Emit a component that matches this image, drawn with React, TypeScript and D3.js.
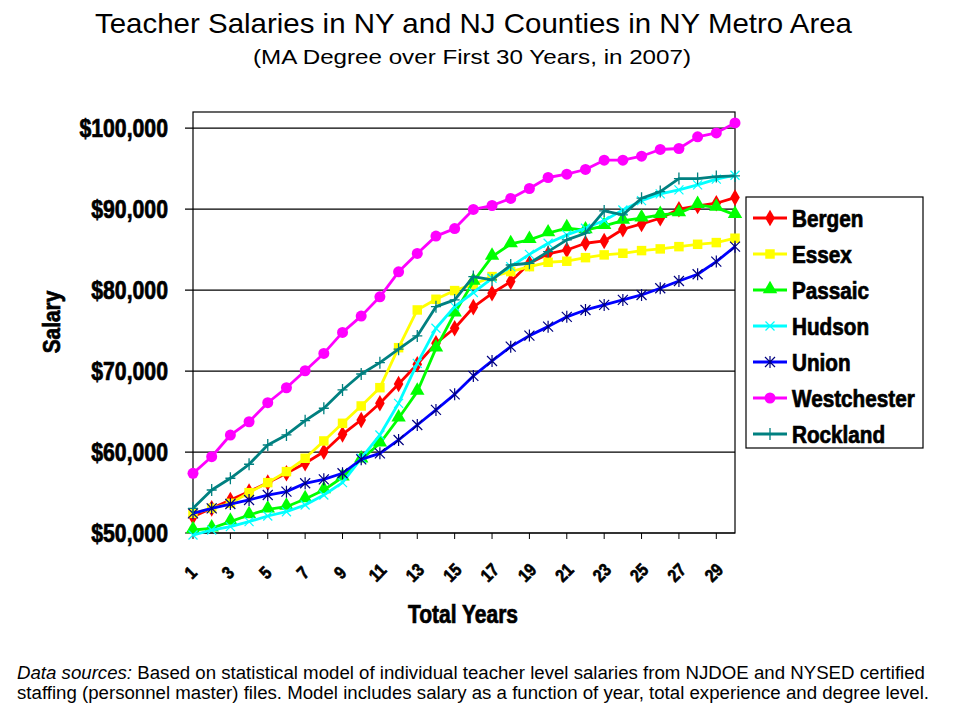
import React, { useEffect } from 'react';
import * as d3 from 'd3';

// years of experience 1..30
const years = d3.range(1, 31);
const yTicks = [50000, 60000, 70000, 80000, 90000, 100000];

const bergen = [52020, 53050, 54080, 55110, 56220, 57380, 58610, 60040, 62190, 63960, 66020, 68410, 70840, 73430, 75290, 77890, 79610, 81050, 83320, 84470, 84960, 85790, 86070, 87520, 88170, 88880, 89990, 90400, 90730, 91430];
const essex = [52430, 53050, 53670, 54980, 56220, 57580, 59230, 61370, 63550, 65690, 67950, 72890, 77550, 78870, 79940, 80700, 81670, 82290, 82900, 83440, 83570, 84010, 84350, 84550, 84880, 85090, 85370, 85660, 85870, 86410];
const passaic = [50370, 50580, 51400, 52220, 52930, 53250, 54200, 55310, 56880, 59100, 61080, 64170, 67460, 72810, 77140, 81050, 84140, 85700, 86200, 87030, 87650, 87400, 87930, 88590, 88880, 89290, 89500, 90520, 90190, 89290];
const hudson = [49750, 50370, 50780, 51400, 52100, 52630, 53460, 54690, 56220, 59230, 62110, 66020, 70960, 75290, 77960, 79700, 81460, 82900, 84420, 85790, 86820, 87640, 88590, 89900, 91050, 91880, 92380, 92990, 93700, 94190];
const union = [52430, 53050, 53580, 54080, 54690, 55110, 56140, 56630, 57380, 59100, 59840, 61490, 63340, 65200, 67130, 69400, 71250, 73020, 74380, 75490, 76700, 77550, 78170, 78790, 79400, 80230, 81130, 81960, 83520, 85370];
const westchester = [57370, 59420, 62100, 63740, 66090, 67940, 70040, 72180, 74780, 76790, 79170, 82260, 84530, 86670, 87600, 89960, 90450, 91320, 92550, 93910, 94320, 94900, 96050, 96050, 96540, 97370, 97490, 98930, 99420, 100650];
const rockland = [53050, 55310, 56760, 58490, 60870, 62110, 63880, 65410, 67670, 69640, 71040, 72700, 74340, 77960, 78790, 81670, 81260, 83100, 83320, 84760, 86200, 87030, 89780, 89290, 91350, 92170, 93780, 93780, 94020, 94110];

type Marker = 'diamond' | 'square' | 'triangle' | 'x' | 'star' | 'circle' | 'plus';
const series: { name: string; values: number[]; color: string; markColor: string; marker: Marker }[] = [
  { name: 'Bergen', values: bergen, color: '#ff0000', markColor: '#ff0000', marker: 'diamond' },
  { name: 'Essex', values: essex, color: '#ffff00', markColor: '#ffff00', marker: 'square' },
  { name: 'Passaic', values: passaic, color: '#00ff00', markColor: '#00ff00', marker: 'triangle' },
  { name: 'Hudson', values: hudson, color: '#00ffff', markColor: '#00ffff', marker: 'x' },
  { name: 'Union', values: union, color: '#0000ff', markColor: '#000080', marker: 'star' },
  { name: 'Westchester', values: westchester, color: '#ff00ff', markColor: '#ff00ff', marker: 'circle' },
  { name: 'Rockland', values: rockland, color: '#008080', markColor: '#008080', marker: 'plus' },
];

const sans = "'Liberation Sans', Arial, sans-serif";

const W = 960, H = 720;
const plot = { left: 193, right: 735, top: 112, bottom: 533 };

// no narrow font installed, so squeeze Liberation Sans horizontally
const NText: React.FC<{
  x: number; y: number; sx: number; size: number; bold?: boolean; anchor?: string; rotate?: number; children: React.ReactNode;
}> = ({ x, y, sx, size, bold, anchor = 'start', rotate = 0, children }) => (
  <text transform={`translate(${x},${y}) rotate(${rotate}) scale(${sx},1)`} textAnchor={anchor}
    fontFamily={sans} fontSize={size} fontWeight={bold ? 'bold' : 'normal'}
    stroke={bold ? '#000' : 'none'} strokeWidth={bold ? 0.7 : 0}>
    {children}
  </text>
);

const MarkerShape: React.FC<{ type: Marker; x: number; y: number; color: string }> = ({ type, x, y, color }) => {
  const t = `translate(${x},${y})`;
  switch (type) {
    case 'diamond':
      return <path transform={t} d={d3.symbol(d3.symbolDiamond, 80)()!} fill={color} />;
    case 'square':
      return <path transform={t} d={d3.symbol(d3.symbolSquare, 90)()!} fill={color} />;
    case 'triangle':
      return <path transform={`translate(${x},${y - 1})`} d={d3.symbol(d3.symbolTriangle, 90)()!} fill={color} />;
    case 'circle':
      return <circle cx={x} cy={y} r={5.5} fill={color} />;
    case 'x':
      return <path transform={t} d="M-4.5,-4.5L4.5,4.5M-4.5,4.5L4.5,-4.5" stroke={color} strokeWidth={1.2} />;
    case 'star':
      return <path transform={t} d="M-5,-5L5,5M-5,5L5,-5M0,-6L0,6" stroke={color} strokeWidth={1.2} />;
    case 'plus':
      return <path transform={t} d="M-5,0L5,0M0,-6L0,6" stroke={color} strokeWidth={1.3} />;
  }
  return null;
};

const App: React.FC = () => {
  useEffect(() => {
    document.body.style.margin = '0';
  }, []);

  const x = d3.scalePoint<number>().domain(years).range([plot.left, plot.right]);
  const y = d3.scaleLinear().domain([50000, 102000]).range([plot.bottom, plot.top]);
  const line = d3.line<number>()
    .x((_, i) => x(years[i])!)
    .y(d => y(d));
  const fmt = (v: number) => '$' + d3.format(',')(v);

  return (
    <svg width={W} height={H} style={{ display: 'block', background: '#fff' }}>
      {/* titles */}
      <text x={95} y={33} fontFamily={sans} fontSize={28} textLength={757} lengthAdjust="spacingAndGlyphs">
        Teacher Salaries in NY and NJ Counties in NY Metro Area
      </text>
      <text x={253} y={64} fontFamily={sans} fontSize={21} textLength={438} lengthAdjust="spacingAndGlyphs">
        (MA Degree over First 30 Years, in 2007)
      </text>

      {/* gridlines + y labels */}
      {yTicks.map(t => (
        <g key={t}>
          <line x1={plot.left - 8} x2={plot.right} y1={y(t)} y2={y(t)} stroke="#000" strokeWidth={1.2} />
          <NText x={168} y={y(t) + 9} sx={0.85} size={25} bold anchor="end">{fmt(t)}</NText>
        </g>
      ))}

      {/* plot frame */}
      <rect x={plot.left} y={plot.top} width={plot.right - plot.left} height={plot.bottom - plot.top}
        fill="none" stroke="#000" strokeWidth={1.2} />

      {/* x ticks */}
      {years.filter(v => v % 2 === 1).map(v => (
        <g key={v}>
          <line x1={x(v)} x2={x(v)} y1={plot.bottom} y2={plot.bottom + 6} stroke="#000" />
          <NText x={x(v)! + 2} y={577} sx={0.85} size={18} bold anchor="middle" rotate={-45}>{v}</NText>
        </g>
      ))}

      {/* series */}
      {series.map(s => (
        <g key={s.name}>
          <path d={line(s.values)!} fill="none" stroke={s.color} strokeWidth={2.8} strokeLinejoin="round" />
          {s.values.map((v, i) => (
            <MarkerShape key={i} type={s.marker} x={x(years[i])!} y={y(v)} color={s.markColor} />
          ))}
        </g>
      ))}

      {/* axis titles */}
      <NText x={60} y={322} sx={0.87} size={24} bold anchor="middle" rotate={-90}>Salary</NText>
      <NText x={463} y={623} sx={0.84} size={25} bold anchor="middle">Total Years</NText>

      {/* legend */}
      <rect x={746} y={197} width={177} height={251} fill="#fff" stroke="#000" strokeWidth={1.2} />
      {series.map((s, i) => {
        const ly = 218 + i * 36;
        return (
          <g key={s.name}>
            <line x1={753} x2={787} y1={ly} y2={ly} stroke={s.color} strokeWidth={2.8} />
            <MarkerShape type={s.marker} x={770} y={ly} color={s.markColor} />
            <NText x={792} y={ly + 8.5} sx={0.9} size={23} bold>{s.name}</NText>
          </g>
        );
      })}

      {/* footnote */}
      <text x={17} y={679} fontFamily={sans} fontSize={18} textLength={908} lengthAdjust="spacingAndGlyphs">
        <tspan fontStyle="italic">Data sources:</tspan> Based on statistical model of individual teacher level salaries from NJDOE and NYSED certified
      </text>
      <text x={17} y={699} fontFamily={sans} fontSize={18} textLength={912} lengthAdjust="spacingAndGlyphs">
        staffing (personnel master) files. Model includes salary as a function of year, total experience and degree level.
      </text>
    </svg>
  );
};

export default App;
